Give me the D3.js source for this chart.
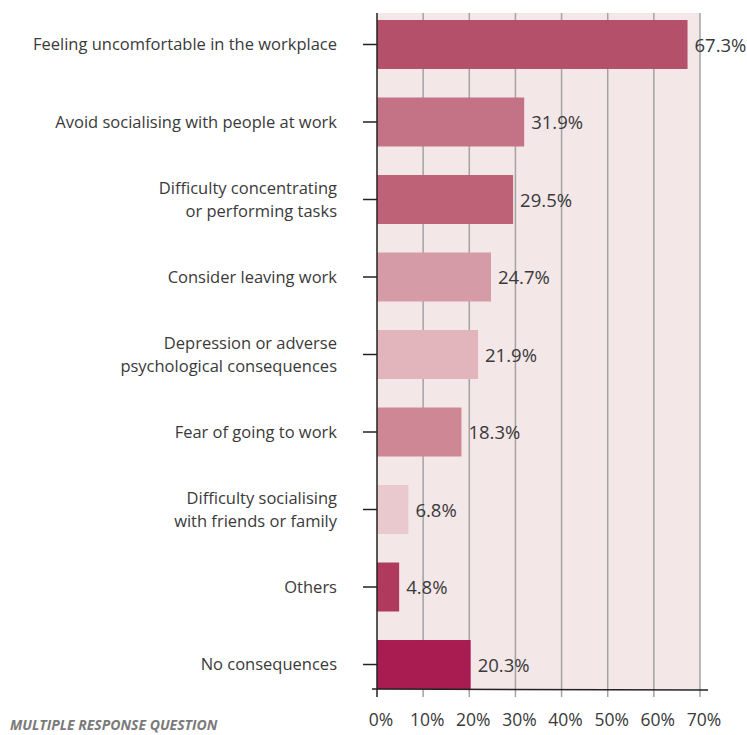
<!DOCTYPE html>
<html>
<head>
<meta charset="utf-8">
<script src="https://cdn.jsdelivr.net/npm/d3@7/dist/d3.min.js"></script>
<style>
  html, body { margin: 0; padding: 0; background: #ffffff; }
  svg { display: block; }
  text { font-family: "Open Sans", "Noto Sans", sans-serif; }
</style>
</head>
<body>
<svg id="chart" width="747" height="735"></svg>
<script>
// Survey answers (multiple response), one line per label row
const categories = [
  ["Feeling uncomfortable in the workplace"],
  ["Avoid socialising with people at work"],
  ["Difficulty concentrating", "or performing tasks"],
  ["Consider leaving work"],
  ["Depression or adverse", "psychological consequences"],
  ["Fear of going to work"],
  ["Difficulty socialising", "with friends or family"],
  ["Others"],
  ["No consequences"]
];
const values = [67.3, 31.9, 29.5, 24.7, 21.9, 18.3, 6.8, 4.8, 20.3];
const barColors = [
  "#b5506b", "#c47386", "#bd6277", "#d59ba6", "#e2b4bb",
  "#cd8795", "#e9c9cd", "#af3a5e", "#a81c52"
];
const tickValues = [0, 10, 20, 30, 40, 50, 60, 70];
const footnote = "MULTIPLE RESPONSE QUESTION";

const svg = d3.select("#chart");

const plot = { left: 377, right: 700, top: 13, bottom: 689 };

const x = d3.scaleLinear().domain([0, 70]).range([plot.left, plot.right]);
const y = d3.scaleBand()
  .domain(d3.range(categories.length))
  .range([20, plot.bottom])
  .paddingInner(0.368)
  .paddingOuter(0);

// Panel background
svg.append("rect")
  .attr("x", x(0)).attr("y", plot.top)
  .attr("width", x(70) - x(0)).attr("height", plot.bottom - plot.top)
  .attr("fill", "#f4e7e8");

// Vertical gridlines (extending below the baseline as ticks)
svg.append("g")
  .selectAll("line")
  .data(tickValues.filter(d => d > 0))
  .join("line")
  .attr("x1", d => x(d)).attr("x2", d => x(d))
  .attr("y1", plot.top).attr("y2", plot.bottom + 8)
  .attr("stroke", "#a3a3a3")
  .attr("stroke-width", 1.5);

// Bars
svg.append("g")
  .selectAll("rect")
  .data(values)
  .join("rect")
  .attr("x", x(0))
  .attr("y", (d, i) => y(i))
  .attr("width", d => x(d) - x(0))
  .attr("height", y.bandwidth())
  .attr("fill", (d, i) => barColors[i]);

// Value labels
svg.append("g")
  .selectAll("text")
  .data(values)
  .join("text")
  .attr("x", d => x(d) + 7)
  .attr("y", (d, i) => y(i) + y.bandwidth() / 2 + 1)
  .attr("dy", "0.35em")
  .attr("font-size", 18.5)
  .attr("fill", "#3a3a3a")
  .text(d => d.toFixed(1) + "%");

// Left axis line and ticks
svg.append("line")
  .attr("x1", x(0)).attr("x2", x(0))
  .attr("y1", plot.top).attr("y2", plot.bottom + 8)
  .attr("stroke", "#222").attr("stroke-width", 1.5);

svg.append("g")
  .selectAll("line")
  .data(d3.range(categories.length))
  .join("line")
  .attr("x1", x(0) - 14).attr("x2", x(0))
  .attr("y1", i => y(i) + y.bandwidth() / 2)
  .attr("y2", i => y(i) + y.bandwidth() / 2)
  .attr("stroke", "#222").attr("stroke-width", 1.5);

// Bottom axis line
svg.append("line")
  .attr("x1", x(0) - 5).attr("x2", x(70) + 8)
  .attr("y1", plot.bottom).attr("y2", plot.bottom + 1)
  .attr("stroke", "#222").attr("stroke-width", 1.5);

// Category labels
const catSize = 16.5;
const catG = svg.append("g")
  .selectAll("text")
  .data(categories)
  .join("text")
  .attr("x", 337)
  .attr("y", (d, i) => y(i) + y.bandwidth() / 2)
  .attr("text-anchor", "end")
  .attr("font-size", catSize)
  .attr("fill", "#3a3a3a");

catG.each(function(lines) {
  const t = d3.select(this);
  const lh = 23;
  const first = -(lines.length - 1) * lh / 2;
  lines.forEach((ln, k) => {
    t.append("tspan")
      .attr("x", 337)
      .attr("dy", k === 0 ? (first / catSize + 0.35) + "em" : lh + "px")
      .text(ln);
  });
});

// Tick labels
svg.append("g")
  .selectAll("text")
  .data(tickValues)
  .join("text")
  .attr("x", d => x(d) + 4)
  .attr("y", 720)
  .attr("dy", "0.35em")
  .attr("text-anchor", "middle")
  .attr("font-size", 17.5)
  .attr("fill", "#3a3a3a")
  .text(d => d + "%");

// Footnote
svg.append("text")
  .attr("x", 10).attr("y", 730)
  .attr("font-size", 14)
  .attr("font-weight", "bold")
  .attr("font-style", "italic")
  .attr("fill", "#7a7a7a")
  .text(footnote);
</script>
</body>
</html>
